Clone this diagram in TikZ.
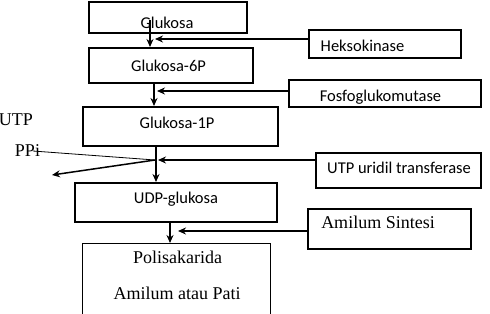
\documentclass[tikz,border=0pt]{standalone}
\usepackage{fontspec}
\setmainfont{Liberation Serif}
\newfontfamily\calfont{Carlito}
\usetikzlibrary{arrows.meta}
\begin{document}
\begin{tikzpicture}[x=1bp,y=-1bp,
 box/.style={draw,line width=1.5bp,inner sep=0pt,anchor=north west},
 thinbox/.style={box,line width=0.9bp},
 sanslbl/.style={font=\calfont\fontsize{16.5bp}{19bp}\selectfont,anchor=base,inner sep=0pt},
 seriflbl/.style={font=\fontsize{18bp}{21bp}\selectfont,anchor=base,inner sep=0pt},
 arr/.style={line width=1.5bp,-{Stealth[length=8bp,width=7bp]}},
 thinline/.style={line width=0.8bp}]
\clip (0,0) rectangle (490,313);
% boxes
\node[box,minimum width=158bp,minimum height=31bp] (glu) at (88,1) {};
\node[box,minimum width=152bp,minimum height=28bp] (hk) at (308,29) {};
\node[box,minimum width=164bp,minimum height=35bp] (g6) at (88,47) {};
\node[box,minimum width=192bp,minimum height=27bp] (fg) at (288,79) {};
\node[box,minimum width=195bp,minimum height=39bp] (g1) at (82,106) {};
\node[box,minimum width=165bp,minimum height=35bp] (ut) at (315,152) {};
\node[box,minimum width=202bp,minimum height=39bp] (udp) at (74,182) {};
\node[box,minimum width=163bp,minimum height=40bp] (ams) at (307,208) {};
\node[thinbox,minimum width=188bp,minimum height=80bp] (pol) at (82,243) {};
% labels
\node[sanslbl] (tglu) at (167,28) {Glukosa};
\node[sanslbl] (thk) at (362.5,51) {Heksokinase};
\node[sanslbl] (tg6) at (168.5,71) {Glukosa-6P};
\node[sanslbl] (tfg) at (380.5,101) {Fosfoglukomutase};
\node[sanslbl] (tg1) at (177,128) {Glukosa-1P};
\node[sanslbl] (tut) at (399,173) {UTP uridil transferase};
\node[sanslbl] (tudp) at (176,203) {UDP-glukosa};
\node[seriflbl] (tams) at (378,228) {Amilum Sintesi};
\node[seriflbl] (tpol) at (177.5,263) {Polisakarida};
\node[seriflbl] (tpati) at (177,299) {Amilum atau Pati};
\node[seriflbl] (tutp) at (16,125) {UTP};
\node[seriflbl] (tppi) at (27.5,156) {PPi};
% connectors
\coordinate (c1) at (150,20);
\draw[arr] (c1) -- (150,0 |- g6.north);
\coordinate (h1) at (155,39);
\draw[arr] (hk.west |- h1) -- (h1);
\draw[arr] (154,0 |- g6.south) -- (154,0 |- g1.north);
\coordinate (f1) at (157,91);
\draw[arr] (fg.west |- f1) -- (f1);
\draw[arr] (156,0 |- g1.south) -- (156,0 |- udp.north);
\coordinate (u1) at (158,160);
\draw[arr] (ut.west |- u1) -- (u1);
\coordinate (p0) at (33,151);
\coordinate (j) at (155,160);
\coordinate (out) at (52,175);
\draw[thinline] (p0) -- (j);
\draw[arr] (j) -- (out);
\draw[arr] (170,0 |- udp.south) -- (170,0 |- pol.north);
\coordinate (a1) at (178,231);
\draw[arr] (ams.west |- a1) -- (a1);
\end{tikzpicture}
\end{document}
